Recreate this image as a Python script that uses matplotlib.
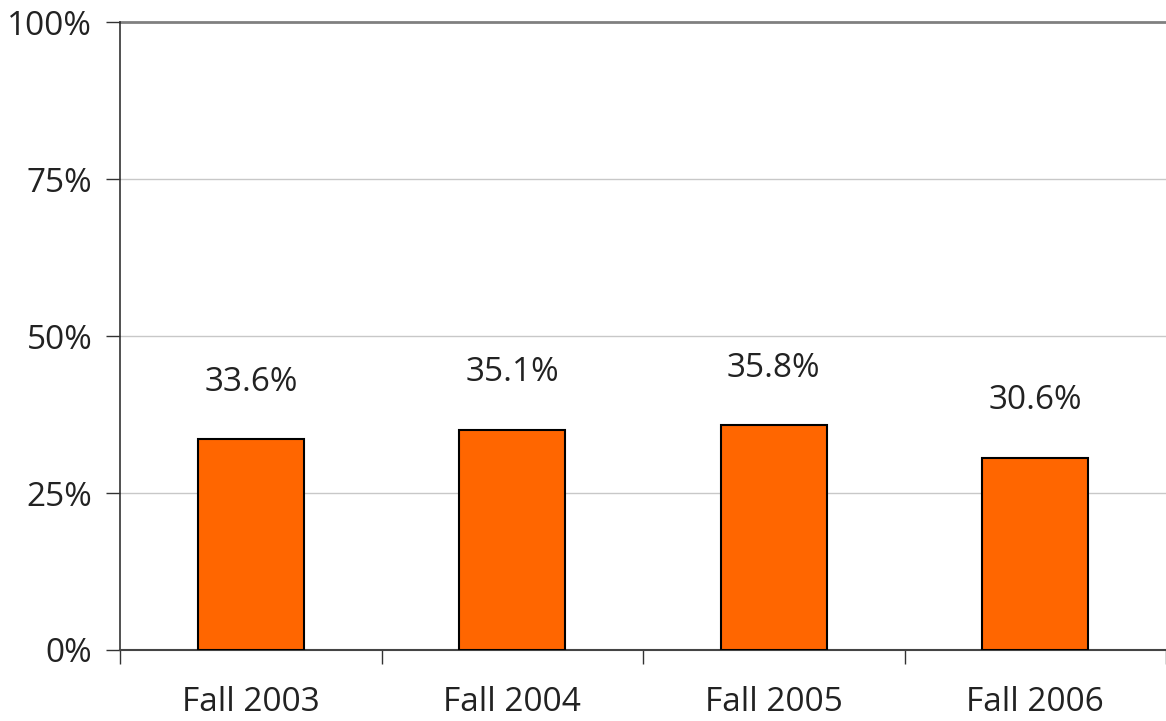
import matplotlib
matplotlib.use("Agg")
import matplotlib.pyplot as plt
from matplotlib.ticker import FixedLocator

categories = ["Fall 2003", "Fall 2004", "Fall 2005", "Fall 2006"]
values = [33.6, 35.1, 35.8, 30.6]
value_labels = ["33.6%", "35.1%", "35.8%", "30.6%"]
y_ticks = [0, 25, 50, 75, 100]
y_tick_labels = ["0%", "25%", "50%", "75%", "100%"]

plt.rcParams['font.family'] = ['Open Sans', 'DejaVu Sans']

fig = plt.figure(figsize=(11.66, 7.21), dpi=100)
ax = fig.add_axes([120/1166, 1-650/721, 1046/1166, 628/721])

x = list(range(len(categories)))
ax.bar(x, values, width=0.405, color="#FF6600", edgecolor="black", linewidth=1.5, zorder=3)

ax.set_xlim(-0.5, len(categories)-0.5)
ax.set_ylim(0, 100)
ax.set_yticks(y_ticks)
ax.set_yticklabels(y_tick_labels, fontsize=24, color="#222222")
ax.set_xticks(x)
ax.set_xticklabels(categories, fontsize=24, color="#222222")
ax.tick_params(axis='x', length=0, pad=26)
ax.xaxis.set_minor_locator(FixedLocator([i - 0.5 for i in range(len(categories)+1)]))
ax.tick_params(axis='x', which='minor', length=10, width=1, color="#333333", direction='out')
ax.tick_params(axis='y', length=10, width=1, color="#333333", direction='out', pad=10)

for yv in [25, 50, 75]:
    ax.axhline(yv, color="#C8C8C8", linewidth=1, zorder=1)
ax.axhline(100, color="#808080", linewidth=2, zorder=1, clip_on=False)

for s in ["top", "right"]:
    ax.spines[s].set_visible(False)
ax.spines["left"].set_color("#333333")
ax.spines["left"].set_linewidth(1.2)
ax.spines["bottom"].set_color("#444444")
ax.spines["bottom"].set_linewidth(1.5)

for xi, v, lab in zip(x, values, value_labels):
    ax.annotate(lab, (xi, v), xytext=(0, 41), textcoords="offset points",
                ha="center", va="center", fontsize=24, color="#222222")

fig.savefig("out.png", dpi=100)
